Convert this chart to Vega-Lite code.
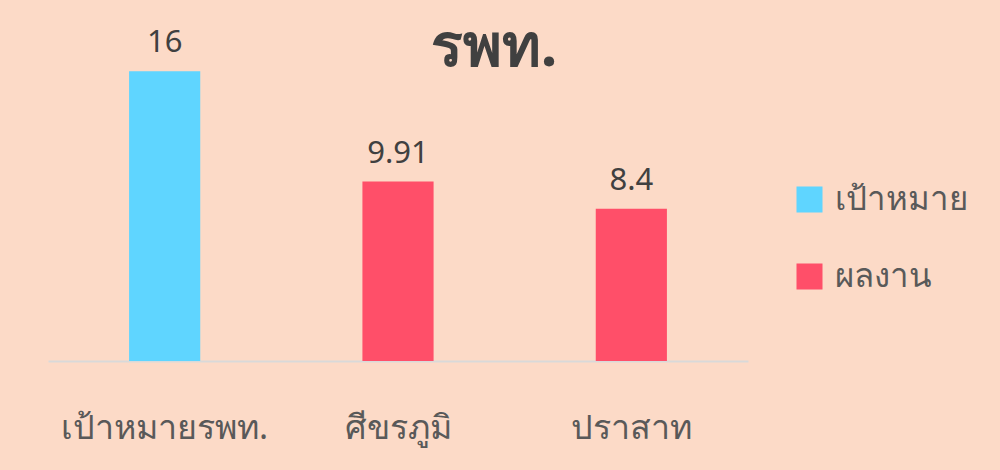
{
  "$schema": "https://vega.github.io/schema/vega-lite/v6.json",
  "width": 700,
  "height": 326,
  "autosize": {"type": "none"},
  "padding": {"left": 48, "top": 35, "right": 252, "bottom": 109},
  "background": "#FCDAC7",
  "title": {
    "text": "รพท.",
    "fontSize": 59,
    "fontWeight": "bold",
    "color": "#404040",
    "font": "Noto Sans",
    "anchor": "middle",
    "frame": "group",
    "baseline": "alphabetic",
    "offset": -98,
    "dx": 96
  },
  "data": {
    "values": [
      {"category": "เป้าหมายรพท.", "value": 16, "type": "เป้าหมาย", "label": "16"},
      {"category": "ศีขรภูมิ", "value": 9.91, "type": "ผลงาน", "label": "9.91"},
      {"category": "ปราสาท", "value": 8.4, "type": "ผลงาน", "label": "8.4"}
    ]
  },
  "encoding": {
    "x": {
      "field": "category",
      "type": "nominal",
      "sort": null,
      "scale": {"paddingInner": 0.695, "paddingOuter": 0.3475},
      "axis": {
        "title": null,
        "labelAngle": 0,
        "ticks": false,
        "domainColor": "#D9D9D9",
        "domainWidth": 2,
        "labelFont": "Noto Sans",
        "labelFontSize": 34,
        "labelLimit": 400,
        "labelColor": "#595959",
        "labelPadding": 50
      }
    },
    "y": {
      "field": "value",
      "type": "quantitative",
      "scale": {"domain": [0, 18]},
      "axis": null
    }
  },
  "layer": [
    {
      "mark": {"type": "bar"},
      "encoding": {
        "color": {
          "field": "type",
          "type": "nominal",
          "scale": {"domain": ["เป้าหมาย", "ผลงาน"], "range": ["#5FD5FF", "#FF4F69"]},
          "legend": {
            "title": null,
            "orient": "none",
            "legendX": 745,
            "legendY": 148,
            "symbolType": "square",
            "symbolSize": 676,
            "symbolStrokeWidth": 0,
            "labelFont": "Noto Sans",
            "labelFontSize": 33,
            "labelLimit": 300,
            "labelColor": "#595959",
            "rowPadding": 43,
            "labelOffset": 9
          }
        }
      }
    },
    {
      "mark": {"type": "text", "dy": -19, "baseline": "alphabetic", "fontSize": 31, "font": "Noto Sans", "color": "#404040"},
      "encoding": {"text": {"field": "label"}}
    }
  ],
  "config": {"view": {"stroke": null}}
}
